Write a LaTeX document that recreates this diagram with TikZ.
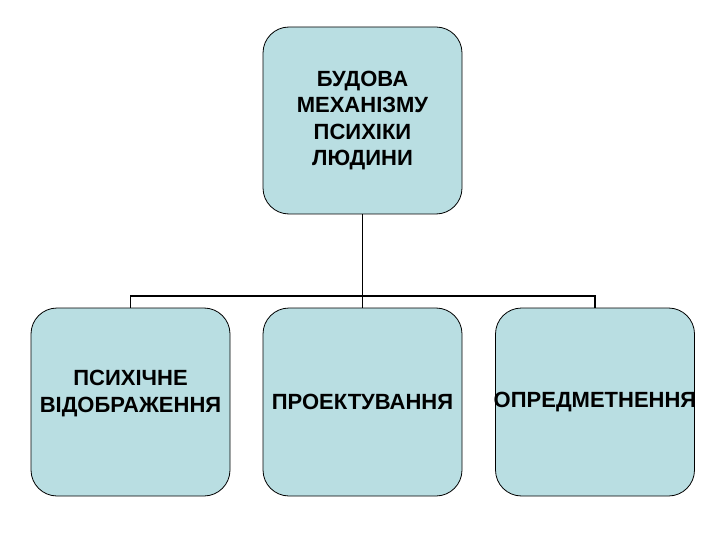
\documentclass[tikz,border=0pt]{standalone}
\usepackage{fontspec}
\setmainfont{Liberation Sans}
\definecolor{boxfill}{RGB}{185,222,226}
\begin{document}
\begin{tikzpicture}[x=1pt,y=-1pt,
  box/.style={draw=black,line width=0.8pt,fill=boxfill,rounded corners=26pt,
    minimum width=199pt,minimum height=188pt,inner sep=0pt,
    align=center,font=\fontsize{22}{26.5}\selectfont\bfseries},
  conn/.style={line width=1.6pt,draw=black}]
\useasboundingbox (0,0) rectangle (720,540);
\node[box,minimum height=187pt] (top) at (362.5,120.5) {БУДОВА\\МЕХАНІЗМУ\\ПСИХІКИ\\ЛЮДИНИ};
\node[box] (l) at (130.5,402) {ПСИХІЧНЕ\\ВІДОБРАЖЕННЯ\\[-5.5pt]};
\node[box] (m) at (362.5,402) {ПРОЕКТУВАННЯ};
\node[box] (r) at (595,402) {\makebox[190pt]{ОПРЕДМЕТНЕННЯ}};
\coordinate (j) at (362.5,296);
\draw[conn] (top.south) -- (j);
\draw[conn] (l.north) -- (l.north |- j) -- (r.north |- j) -- (r.north);
\draw[conn] (j) -- (m.north);
\end{tikzpicture}
\end{document}
